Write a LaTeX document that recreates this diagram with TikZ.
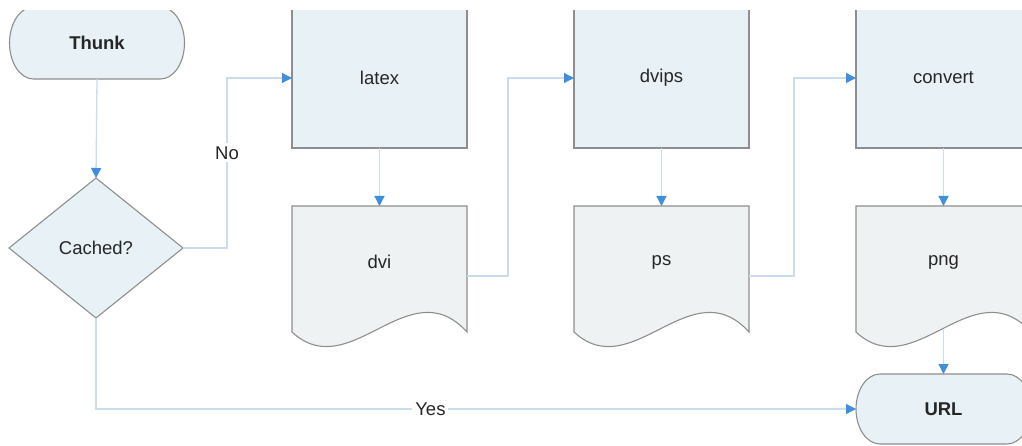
\documentclass[tikz,border=0pt]{standalone}
\usepackage{fontspec}
\setmainfont{Liberation Sans}
\usetikzlibrary{shapes.geometric,arrows.meta}

\definecolor{boxfill}{HTML}{E8F1F5}
\definecolor{docfill}{HTML}{EEF2F2}
\definecolor{bordergray}{HTML}{8E8E8E}
\definecolor{linecol}{HTML}{C9DDEE}
\definecolor{tipblue}{HTML}{3F8FDE}
\definecolor{textgray}{HTML}{262626}

% stadium outline around a (borderless) node: #1 node name, #2 half height
\newcommand\termoutline[2]{%
  \path[termshape] ([xshift=24pt]#1.north west) -- ([xshift=-24pt]#1.north east)
    arc[start angle=90,end angle=-90,x radius=24pt,y radius=#2]
    -- ([xshift=24pt]#1.south west)
    arc[start angle=270,end angle=90,x radius=24pt,y radius=#2] -- cycle;}

% document outline with a wavy bottom edge
\newcommand\docoutline[1]{%
  \path[docshape] (#1.north west) -- (#1.north east) -- ([yshift=14pt]#1.south east)
    .. controls +(-58,64) and +(58,-54) .. ([yshift=14pt]#1.south west) -- cycle;}

\begin{document}
\begin{tikzpicture}[x=1pt,y=1pt,
  every node/.style={font=\fontsize{18.5}{21}\selectfont, text=textgray,
    inner sep=0pt, outer sep=0pt},
  procbox/.style={draw=bordergray, line width=1.1pt, fill=boxfill,
    minimum width=175pt, minimum height=140pt},
  docbox/.style={minimum width=175pt, minimum height=140pt},
  termbox/.style={minimum width=175pt},
  termtext/.style={font=\fontsize{18.5}{21}\selectfont\bfseries},
  decision/.style={diamond, draw=bordergray, line width=1.1pt, fill=boxfill,
    minimum width=174pt, minimum height=140pt},
  termshape/.style={draw=bordergray, line width=1.1pt, fill=boxfill},
  docshape/.style={draw=bordergray, line width=1.1pt, fill=docfill},
  flow/.style={draw=linecol, line width=1.3pt,
    -{Triangle[length=10pt,width=10pt,color=tipblue]}},
  lbl/.style={fill=white, inner sep=3pt}
]
\useasboundingbox (0,0) rectangle (1022,-446);
\clip (0,-10.5) rectangle (1022,-446);

% start and end terminals
\node[termbox, minimum height=72pt] (thunk) at (97,-43) {};
\termoutline{thunk}{36pt}
\node[termtext] at (thunk) {Thunk};

\node[termbox, minimum height=70pt] (url) at (943.5,-409) {};
\termoutline{url}{35pt}
\node[termtext] at (url) {URL};

% decision
\node[decision] (cached) at (96,-248) {Cached?};

% processing steps
\node[procbox] (latex)   at (379.5,-78) {latex};
\node[procbox] (dvips)   at (661.5,-78) {dvips};
\node[procbox] (convert) at (943.5,-78) {convert};

% intermediate files
\node[docbox] (dvi) at (379.5,-276) {};
\node[docbox] (ps)  at (661.5,-276) {};
\node[docbox] (png) at (943.5,-276) {};
\docoutline{dvi}
\docoutline{ps}
\docoutline{png}
\node at ([yshift=14pt]dvi.center) {dvi};
\node at ([yshift=14pt]ps.center) {ps};
\node at ([yshift=14pt]png.center) {png};

% connectors
\draw[flow] (thunk.south) -- (cached.north);
\draw[flow] (cached.east) -- ++(44,0) |- (latex.west)
  node[lbl, pos=0.28] {No};
\draw[flow] (latex.south) -- (dvi.north);
\draw[flow] (dvi.east) -- ++(41,0) |- (dvips.west);
\draw[flow] (dvips.south) -- (ps.north);
\draw[flow] (ps.east) -- ++(45,0) |- (convert.west);
\draw[flow] (convert.south) -- (png.north);
\draw[flow] ([yshift=17pt]png.south) -- (url.north);
\draw[flow] (cached.south) |- (url.west)
  node[lbl, pos=0.72] {Yes};
\end{tikzpicture}
\end{document}
